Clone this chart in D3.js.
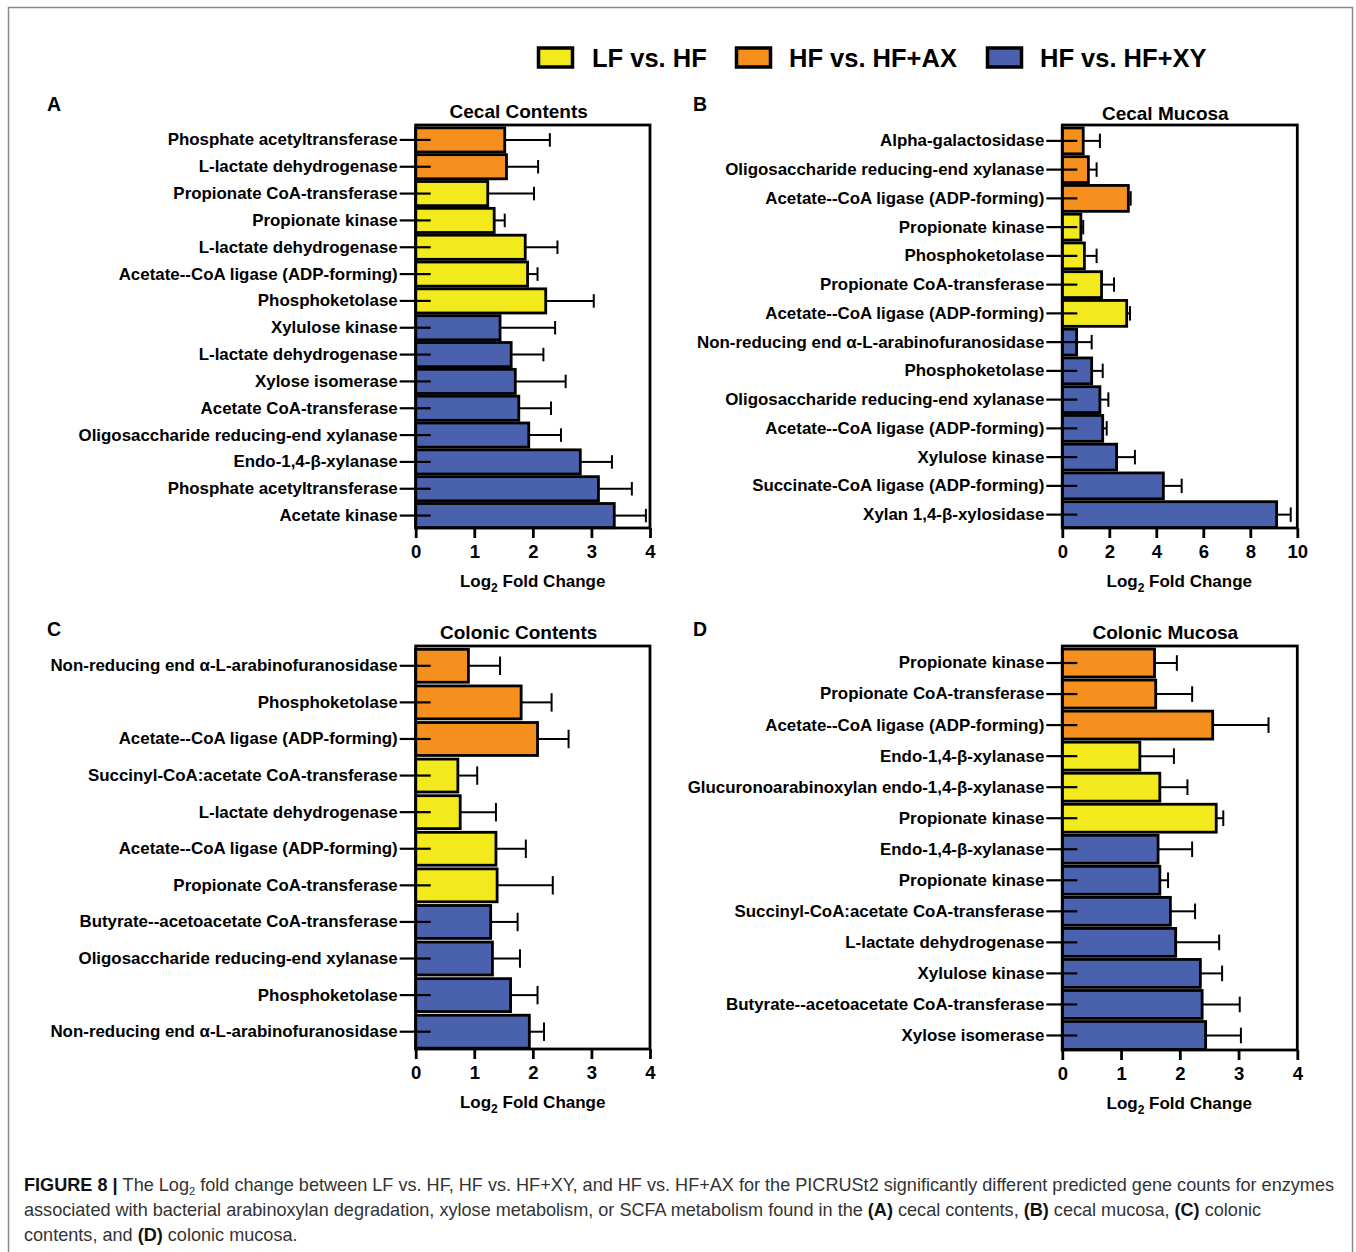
<!DOCTYPE html>
<html>
<head>
<meta charset="utf-8">
<script src="https://cdn.jsdelivr.net/npm/d3@7"></script>
<style>
  html, body { margin: 0; padding: 0; background: #fff; }
  svg { display: block; font-family: "Liberation Sans", Arial, Helvetica, sans-serif; }
</style>
</head>
<body>
<svg id="fig" width="1356" height="1252"></svg>
<script>
// Comparison groups and their fills
const groups = ["LF vs. HF", "HF vs. HF+AX", "HF vs. HF+XY"];
const groupColors = ["#f2ea1c", "#f5901f", "#4a62ae"];

// (A) Cecal contents
const cecalContentsEnzymes = [
  "Phosphate acetyltransferase", "L-lactate dehydrogenase", "Propionate CoA-transferase",
  "Propionate kinase", "L-lactate dehydrogenase", "Acetate--CoA ligase (ADP-forming)",
  "Phosphoketolase", "Xylulose kinase", "L-lactate dehydrogenase", "Xylose isomerase",
  "Acetate CoA-transferase", "Oligosaccharide reducing-end xylanase", "Endo-1,4-β-xylanase",
  "Phosphate acetyltransferase", "Acetate kinase"
];
const cecalContentsGroup = [1, 1, 0, 0, 0, 0, 0, 2, 2, 2, 2, 2, 2, 2, 2];
const cecalContentsLFC = [1.52, 1.55, 1.23, 1.34, 1.87, 1.91, 2.22, 1.44, 1.63, 1.70, 1.76, 1.93, 2.81, 3.12, 3.39];
const cecalContentsErr = [0.77, 0.54, 0.79, 0.18, 0.55, 0.17, 0.82, 0.94, 0.55, 0.86, 0.55, 0.55, 0.54, 0.57, 0.54];

// (B) Cecal mucosa
const cecalMucosaEnzymes = [
  "Alpha-galactosidase", "Oligosaccharide reducing-end xylanase", "Acetate--CoA ligase (ADP-forming)",
  "Propionate kinase", "Phosphoketolase", "Propionate CoA-transferase",
  "Acetate--CoA ligase (ADP-forming)", "Non-reducing end α-L-arabinofuranosidase", "Phosphoketolase",
  "Oligosaccharide reducing-end xylanase", "Acetate--CoA ligase (ADP-forming)", "Xylulose kinase",
  "Succinate-CoA ligase (ADP-forming)", "Xylan 1,4-β-xylosidase"
];
const cecalMucosaGroup = [1, 1, 1, 0, 0, 0, 0, 2, 2, 2, 2, 2, 2, 2];
const cecalMucosaLFC = [0.89, 1.11, 2.81, 0.79, 0.94, 1.67, 2.74, 0.61, 1.25, 1.60, 1.72, 2.31, 4.30, 9.12];
const cecalMucosaErr = [0.71, 0.35, 0.10, 0.10, 0.52, 0.53, 0.14, 0.64, 0.47, 0.36, 0.17, 0.78, 0.78, 0.60];

// (C) Colonic contents
const colonicContentsEnzymes = [
  "Non-reducing end α-L-arabinofuranosidase", "Phosphoketolase", "Acetate--CoA ligase (ADP-forming)",
  "Succinyl-CoA:acetate CoA-transferase", "L-lactate dehydrogenase", "Acetate--CoA ligase (ADP-forming)",
  "Propionate CoA-transferase", "Butyrate--acetoacetate CoA-transferase",
  "Oligosaccharide reducing-end xylanase", "Phosphoketolase", "Non-reducing end α-L-arabinofuranosidase"
];
const colonicContentsGroup = [1, 1, 1, 0, 0, 0, 0, 2, 2, 2, 2];
const colonicContentsLFC = [0.90, 1.80, 2.08, 0.72, 0.76, 1.37, 1.39, 1.28, 1.31, 1.62, 1.94];
const colonicContentsErr = [0.54, 0.52, 0.53, 0.33, 0.61, 0.51, 0.95, 0.46, 0.47, 0.46, 0.25];

// (D) Colonic mucosa
const colonicMucosaEnzymes = [
  "Propionate kinase", "Propionate CoA-transferase", "Acetate--CoA ligase (ADP-forming)",
  "Endo-1,4-β-xylanase", "Glucuronoarabinoxylan endo-1,4-β-xylanase", "Propionate kinase",
  "Endo-1,4-β-xylanase", "Propionate kinase", "Succinyl-CoA:acetate CoA-transferase",
  "L-lactate dehydrogenase", "Xylulose kinase", "Butyrate--acetoacetate CoA-transferase",
  "Xylose isomerase"
];
const colonicMucosaGroup = [1, 1, 1, 0, 0, 0, 2, 2, 2, 2, 2, 2, 2];
const colonicMucosaLFC = [1.57, 1.59, 2.56, 1.32, 1.66, 2.62, 1.63, 1.66, 1.84, 1.93, 2.35, 2.38, 2.44];
const colonicMucosaErr = [0.38, 0.62, 0.95, 0.58, 0.47, 0.12, 0.58, 0.14, 0.42, 0.74, 0.37, 0.64, 0.60];

// Axis ticks per panel
const ticksFour = [0, 1, 2, 3, 4];
const ticksTen = [0, 2, 4, 6, 8, 10];

const svg = d3.select("#fig");
const FONT = '"Liberation Sans", Arial, Helvetica, sans-serif';

// Outer figure frame
svg.append("rect")
  .attr("x", 8.5).attr("y", 7.5).attr("width", 1344).attr("height", 1270)
  .attr("fill", "none").attr("stroke", "#8a8a8a").attr("stroke-width", 1.5);

// Legend
const legendItems = [
  { box: 537, text: 592 },
  { box: 735, text: 789 },
  { box: 986, text: 1040 }
];
[0, 1, 2].forEach((g, k) => {
  const it = legendItems[k];
  svg.append("rect")
    .attr("x", it.box + 1.5).attr("y", 48).attr("width", 34).attr("height", 19)
    .attr("fill", groupColors[g]).attr("stroke", "#000").attr("stroke-width", 3.5);
  svg.append("text")
    .attr("x", it.text).attr("y", 66.5)
    .attr("font-size", 25.5).attr("font-weight", "bold").attr("fill", "#000")
    .text(groups[g]);
});

function panel(cfg) {
  const g = svg.append("g");
  const n = cfg.labels.length;
  const x = d3.scaleLinear().domain([0, cfg.max]).range([cfg.x0, cfg.x1]);
  const y = d3.scaleBand().domain(d3.range(n)).range([cfg.top + 1.5, cfg.bottom + 1])
    .paddingInner(0.1).paddingOuter(0.05);
  const bw = y.bandwidth();

  // Panel letter
  g.append("text").attr("x", cfg.letterX).attr("y", cfg.letterY)
    .attr("font-size", 19.5).attr("font-weight", "bold").text(cfg.letter);

  // Title
  g.append("text").attr("x", cfg.x0 + 103).attr("y", cfg.titleY)
    .attr("text-anchor", "middle").attr("font-size", 19).attr("font-weight", "bold")
    .text(cfg.title);

  // Bars
  g.selectAll("rect.bar").data(cfg.values).join("rect")
    .attr("class", "bar")
    .attr("x", x(0))
    .attr("y", (d, i) => y(i))
    .attr("width", d => x(d) - x(0))
    .attr("height", bw)
    .attr("fill", (d, i) => groupColors[cfg.group[i]])
    .attr("stroke", "#000").attr("stroke-width", 2.8);

  // Error bars (positive side)
  const cap = bw * 0.56;
  cfg.values.forEach((v, i) => {
    const cy = y(i) + bw / 2;
    const xe = x(v + cfg.err[i]);
    g.append("line").attr("x1", x(v)).attr("x2", xe).attr("y1", cy).attr("y2", cy)
      .attr("stroke", "#000").attr("stroke-width", 2);
    g.append("line").attr("x1", xe).attr("x2", xe).attr("y1", cy - cap / 2).attr("y2", cy + cap / 2)
      .attr("stroke", "#000").attr("stroke-width", 2);
  });

  // Plot frame
  g.append("rect").attr("x", cfg.x0).attr("y", cfg.top)
    .attr("width", cfg.x1 - cfg.x0).attr("height", cfg.bottom - cfg.top)
    .attr("fill", "none").attr("stroke", "#000").attr("stroke-width", 2.8);

  // Category axis
  const ya = g.append("g").attr("transform", `translate(${cfg.x0},0)`)
    .call(d3.axisLeft(y).tickSize(16).tickPadding(2).tickFormat(i => cfg.labels[i]));
  ya.select(".domain").remove();
  ya.selectAll(".tick line").attr("x1", 15).attr("stroke", "#000").attr("stroke-width", 2.2);
  ya.selectAll(".tick text").attr("font-family", FONT).attr("font-size", 16.9)
    .attr("font-weight", "bold").attr("fill", "#000");

  // Value axis
  const xa = g.append("g").attr("transform", `translate(0,${cfg.bottom})`)
    .call(d3.axisBottom(x).tickValues(cfg.ticks).tickSize(10).tickPadding(7).tickFormat(d3.format("d")));
  xa.select(".domain").remove();
  xa.selectAll(".tick line").attr("stroke", "#000").attr("stroke-width", 2.8);
  xa.selectAll(".tick text").attr("font-family", FONT).attr("font-size", 18.5)
    .attr("font-weight", "bold").attr("fill", "#000");

  // Axis title with subscript
  const t = g.append("text").attr("x", cfg.x0 + 117).attr("y", cfg.bottom + 59)
    .attr("text-anchor", "middle").attr("font-size", 17).attr("font-weight", "bold");
  t.append("tspan").text("Log");
  t.append("tspan").attr("font-size", 12).attr("dy", 5).text("2");
  t.append("tspan").attr("dy", -5).text(" Fold Change");
}

panel({ letter: "A", letterX: 47, letterY: 111, title: "Cecal Contents", titleY: 118,
  x0: 415.7, x1: 650, top: 125, bottom: 528, max: 4, ticks: ticksFour,
  labels: cecalContentsEnzymes, values: cecalContentsLFC, err: cecalContentsErr, group: cecalContentsGroup });
panel({ letter: "B", letterX: 693, letterY: 111, title: "Cecal Mucosa", titleY: 120,
  x0: 1062.3, x1: 1297.3, top: 125, bottom: 528, max: 10, ticks: ticksTen,
  labels: cecalMucosaEnzymes, values: cecalMucosaLFC, err: cecalMucosaErr, group: cecalMucosaGroup });
panel({ letter: "C", letterX: 47, letterY: 636, title: "Colonic Contents", titleY: 639,
  x0: 415.7, x1: 650, top: 646, bottom: 1049, max: 4, ticks: ticksFour,
  labels: colonicContentsEnzymes, values: colonicContentsLFC, err: colonicContentsErr, group: colonicContentsGroup });
panel({ letter: "D", letterX: 693, letterY: 636, title: "Colonic Mucosa", titleY: 639,
  x0: 1062.3, x1: 1297.3, top: 646, bottom: 1050, max: 4, ticks: ticksFour,
  labels: colonicMucosaEnzymes, values: colonicMucosaLFC, err: colonicMucosaErr, group: colonicMucosaGroup });

// Figure caption
const captionLines = [
  [["b", "FIGURE 8"], ["b", " | "], ["n", "The Log"], ["s", "2"],
   ["n", " fold change between LF vs. HF, HF vs. HF+XY, and HF vs. HF+AX for the PICRUSt2 significantly different predicted gene counts for enzymes"]],
  [["n", "associated with bacterial arabinoxylan degradation, xylose metabolism, or SCFA metabolism found in the "],
   ["b", "(A)"], ["n", " cecal contents, "], ["b", "(B)"], ["n", " cecal mucosa, "], ["b", "(C)"], ["n", " colonic"]],
  [["n", "contents, and "], ["b", "(D)"], ["n", " colonic mucosa."]]
];
const captionY = [1191, 1216, 1241];
const capSize = 16.5;
const capTexts = captionLines.map((parts, li) => {
  const t = svg.append("text").attr("x", 24).attr("y", captionY[li])
    .attr("font-size", capSize).attr("fill", "#333");
  parts.forEach(([kind, s]) => {
    const sp = t.append("tspan").text(s);
    if (kind === "b") sp.attr("font-weight", "bold").attr("fill", "#111");
    if (kind === "s") sp.attr("font-size", "0.62em").attr("dy", 4);
    if (kind === "n" && li === 0 && s.startsWith(" fold")) sp.attr("dy", -4);
  });
  return t;
});
// Fit the first caption line to the frame width
const w0 = capTexts[0].node().getComputedTextLength();
const scale = 1311 / w0;
capTexts.forEach(t => t.attr("font-size", capSize * scale));
</script>
</body>
</html>
